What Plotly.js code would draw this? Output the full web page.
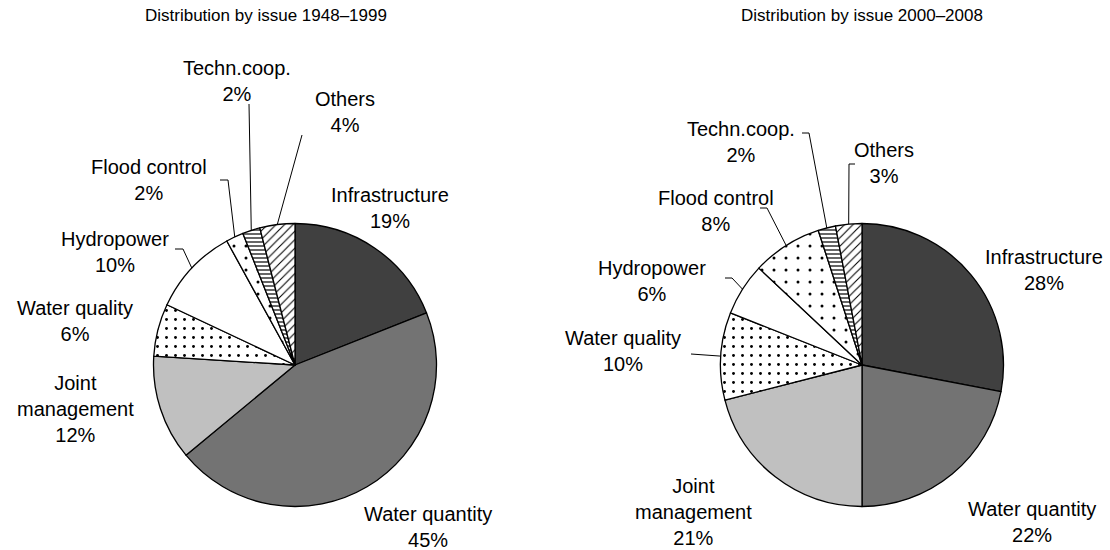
<!DOCTYPE html>
<html>
<head>
<meta charset="utf-8">
<script src="https://cdn.plot.ly/plotly-3.0.1.min.js"></script>
<style>html,body{margin:0;padding:0;background:#fff;}#chart{width:1110px;height:550px;}</style>
</head>
<body>
<div id="chart"></div>
<script>
// ---- data ----
const categories = ["Infrastructure", "Water quantity", "Joint management", "Water quality", "Hydropower", "Flood control", "Techn.coop.", "Others"];
const labelText = ["Infrastructure", "Water quantity", "Joint<br>management", "Water quality", "Hydropower", "Flood control", "Techn.coop.", "Others"];
const values1948 = [19, 45, 12, 6, 10, 2, 2, 4];
const values2000 = [28, 22, 21, 10, 6, 8, 2, 3];
const titles = ["Distribution by issue 1948–1999", "Distribution by issue 2000–2008"];

// ---- styles ----
const W = 1110, H = 550;
const fills = ["#404040", "#737373", "#c0c0c0", "#ffffff", "#ffffff", "#ffffff", "#ffffff", "#ffffff"];
const shapes = ["", "", "", ".", "", ".", "-", "/"];
const psize = [8, 8, 8, 9, 8, 12, 4, 6];
const psol = [0.2, 0.2, 0.2, 0.08, 0.2, 0.05, 0.3, 0.18];
const FONT = "Liberation Sans, Arial, sans-serif";
const R = 141.5;
const pies = [
  {cx: 295, cy: 365, values: values1948, titleX: 266,
   labelPos: [[390,208],[428,527],[75,409],[75,321],[115,252],[149,180],[237,81],[345,112]],
   leaders: [null, null, null, null, [[175,249],[183,249]], [[220,180],[228,180]], [[249,104]], [[302,135]]]},
  {cx: 862, cy: 365, values: values2000, titleX: 862,
   labelPos: [[1044,270],[1032,522],[693,512],[623,351],[652,281],[716,211],[741,142],[884,163]],
   leaders: [null, null, null, [[691,354]], [[725,278],[732,278]], [[760,208],[767,208]], [[802,133],[809,133]], [[855,164],[849,164]]]}
];

const px = x => x / W;
const py = y => 1 - y / H;

const traces = [];
const annotations = [];
const shapeList = [];
pies.forEach((p, k) => {
  traces.push({
    type: "pie",
    values: p.values,
    labels: categories,
    sort: false,
    direction: "clockwise",
    rotation: 0,
    textinfo: "none",
    hoverinfo: "label+value",
    showlegend: false,
    domain: {x: [px(p.cx - R), px(p.cx + R)], y: [py(p.cy + R), py(p.cy - R)]},
    marker: {
      colors: fills,
      line: {color: "#000000", width: 1.3},
      pattern: {shape: shapes, fgcolor: "#000000", bgcolor: "#ffffff", size: psize, solidity: psol, fillmode: "replace"}
    }
  });
  annotations.push({
    xref: "paper", yref: "paper", x: px(p.titleX), y: py(16), xanchor: "center", yanchor: "middle",
    text: titles[k], showarrow: false, font: {family: FONT, size: 17, color: "#000"}
  });
  const total = p.values.reduce((a, b) => a + b, 0);
  let cum = 0;
  p.values.forEach((v, i) => {
    const mid = (cum + v / 2) / total * 2 * Math.PI;
    cum += v;
    const [lx, ly] = p.labelPos[i];
    annotations.push({
      xref: "paper", yref: "paper", x: px(lx), y: py(ly), xanchor: "center", yanchor: "middle",
      text: labelText[i] + "<br>" + v + "%", showarrow: false, align: "center",
      font: {family: FONT, size: 20, color: "#000"}
    });
    const lead = p.leaders[i];
    if (lead) {
      const ex = p.cx + R * Math.sin(mid);
      const ey = p.cy - R * Math.cos(mid);
      let d = "";
      lead.forEach((pt, j) => { d += (j ? " L" : "M") + px(pt[0]) + "," + py(pt[1]); });
      d += " L" + px(ex) + "," + py(ey);
      shapeList.push({type: "path", xref: "paper", yref: "paper", path: d, line: {color: "#000", width: 1}});
    }
  });
});

const layout = {
  width: W, height: H,
  margin: {l: 0, r: 0, t: 0, b: 0},
  paper_bgcolor: "#ffffff",
  font: {family: FONT, color: "#000"},
  annotations: annotations,
  shapes: shapeList,
  showlegend: false
};
Plotly.newPlot("chart", traces, layout, {displayModeBar: false, staticPlot: true});
</script>
</body>
</html>
